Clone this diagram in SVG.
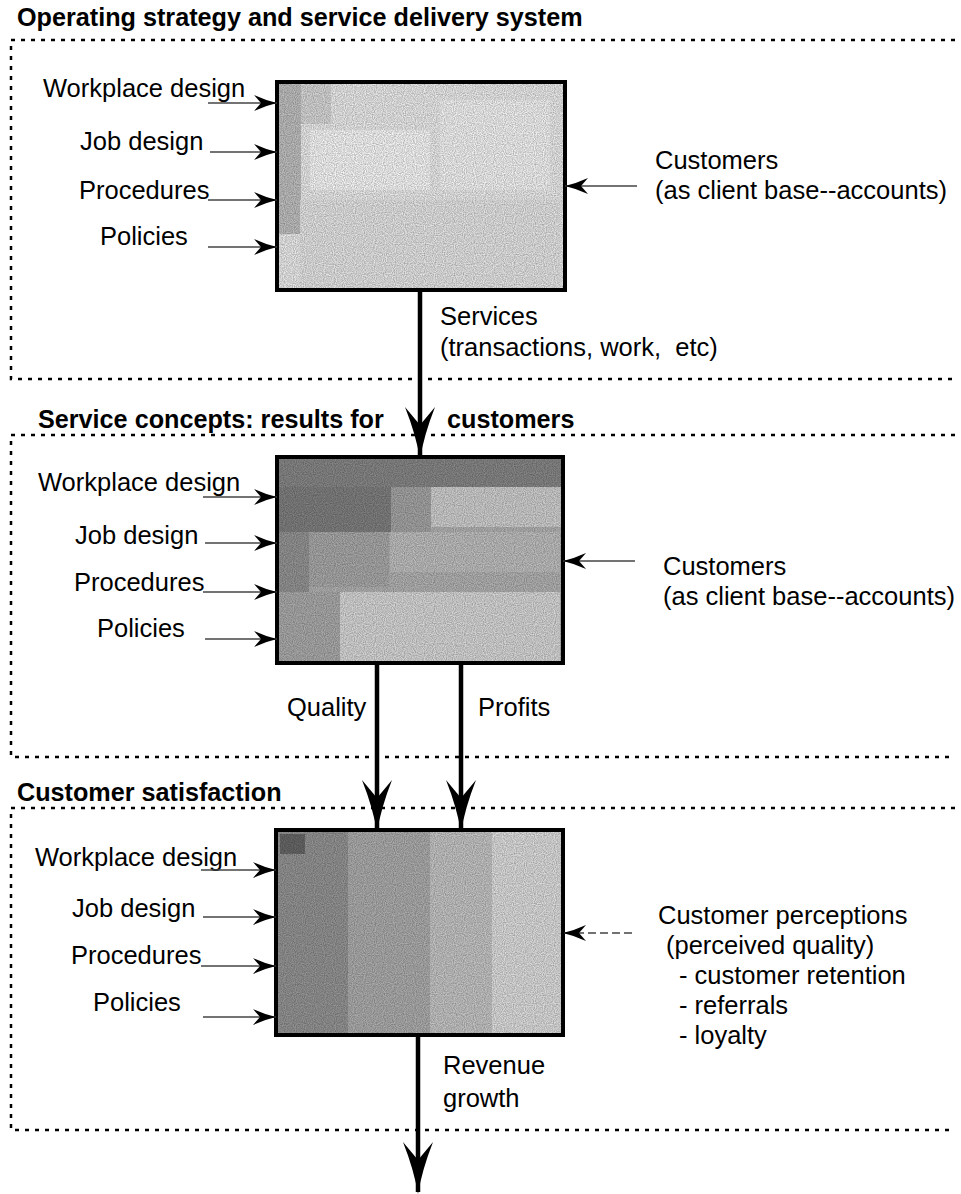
<svg xmlns="http://www.w3.org/2000/svg" width="961" height="1194" viewBox="0 0 961 1194">
<style>
text{font-family:"Liberation Sans",Arial,sans-serif;font-size:25.5px;fill:#000}
.t{font-weight:bold;font-size:25.2px}
.dash{stroke:#000;stroke-width:2.5;stroke-dasharray:4 6;fill:none}
.in{stroke:#444;stroke-width:1.4;fill:none;marker-end:url(#sm)}
.big{stroke:#000;stroke-width:4.5;fill:none;marker-end:url(#bm)}
.frame{fill:none;stroke:#000;stroke-width:4}
</style>
<defs>
<marker id="sm" viewBox="0 0 23 16" refX="23" refY="8" markerWidth="23" markerHeight="16" markerUnits="userSpaceOnUse" orient="auto">
<path d="M23,8 Q12,5.5 0,0 L7,8 L0,16 Q12,10.5 23,8 Z" fill="#000"/>
</marker>
<marker id="bm" viewBox="0 0 52 30" refX="50" refY="15" markerWidth="52" markerHeight="30" markerUnits="userSpaceOnUse" orient="auto">
<path d="M52,15 Q28,11 0,0 L18,15 L0,30 Q28,19 52,15 Z" fill="#000"/>
</marker>
<filter id="grain" x="0" y="0" width="100%" height="100%">
<feTurbulence type="fractalNoise" baseFrequency="0.9" numOctaves="1" seed="4"/>
<feColorMatrix type="matrix" values="0 0 0 0 0  0 0 0 0 0  0 0 0 0 0  0 0 0 1.2 -0.35"/>
<feComposite in2="SourceGraphic" operator="in"/>
</filter>
</defs>
<rect width="961" height="1194" fill="#fff"/>

<g id="section1">
<text class="t" x="17" y="26">Operating strategy and service delivery system</text>
<path class="dash" d="M955,40 H11 V379 H955"/>
</g>
<g id="section2">
<text class="t" x="38" y="428">Service concepts: results for</text>
<text class="t" x="447" y="428">customers</text>
<path class="dash" d="M955,435 H11 V757 H955"/>
</g>
<g id="section3">
<text class="t" x="17" y="801">Customer satisfaction</text>
<path class="dash" d="M955,808 H11 V1130 H955"/>
</g>

<g id="box1">
<rect x="277" y="82" width="288" height="208" fill="#e8e8e8"/>
<rect x="279" y="84" width="22" height="150" fill="#bcbcbc"/>
<rect x="301" y="84" width="30" height="40" fill="#d4d4d4"/>
<rect x="310" y="130" width="120" height="60" fill="#f4f4f4"/>
<rect x="440" y="100" width="110" height="90" fill="#f0f0f0"/>
<rect x="300" y="200" width="260" height="88" fill="#e2e2e2"/>
<rect x="277" y="82" width="288" height="208" fill="#fff" filter="url(#grain)" opacity="0.45"/>
<rect class="frame" x="277" y="82" width="288" height="208"/>
</g>
<g id="box2">
<rect x="277" y="457" width="286" height="206" fill="#b0b0b0"/>
<rect x="279" y="459" width="282" height="28" fill="#858585"/>
<rect x="279" y="487" width="112" height="45" fill="#7e7e7e"/>
<rect x="279" y="532" width="30" height="60" fill="#929292"/>
<rect x="391" y="487" width="40" height="45" fill="#a2a2a2"/>
<rect x="431" y="487" width="130" height="40" fill="#cccccc"/>
<rect x="309" y="532" width="80" height="55" fill="#a6a6a6"/>
<rect x="390" y="532" width="170" height="40" fill="#bcbcbc"/>
<rect x="340" y="592" width="220" height="69" fill="#d4d4d4"/>
<rect x="279" y="592" width="61" height="69" fill="#a8a8a8"/>
<rect x="277" y="457" width="286" height="206" fill="#fff" filter="url(#grain)" opacity="0.45"/>
<rect class="frame" x="277" y="457" width="286" height="206"/>
</g>
<g id="box3">
<rect x="276" y="830" width="287" height="205" fill="#b8b8b8"/>
<rect x="278" y="832" width="70" height="201" fill="#929292"/>
<rect x="280" y="834" width="25" height="20" fill="#666666"/>
<rect x="348" y="832" width="82" height="201" fill="#aaaaaa"/>
<rect x="430" y="832" width="62" height="201" fill="#c2c2c2"/>
<rect x="492" y="832" width="69" height="201" fill="#dadada"/>
<rect x="276" y="830" width="287" height="205" fill="#fff" filter="url(#grain)" opacity="0.45"/>
<rect class="frame" x="276" y="830" width="287" height="205"/>
</g>

<g id="labels1">
<text x="43" y="97">Workplace design</text>
<text x="80" y="150">Job design</text>
<text x="79" y="199">Procedures</text>
<text x="100" y="245">Policies</text>
<text x="655" y="169">Customers</text>
<text x="655" y="199">(as client base--accounts)</text>
<text x="440" y="325">Services</text>
<text x="440" y="356" xml:space="preserve">(transactions, work,  etc)</text>
</g>
<g id="labels2">
<text x="38" y="491">Workplace design</text>
<text x="75" y="544">Job design</text>
<text x="74" y="591">Procedures</text>
<text x="97" y="637">Policies</text>
<text x="663" y="575">Customers</text>
<text x="663" y="605">(as client base--accounts)</text>
<text x="287" y="716">Quality</text>
<text x="478" y="716">Profits</text>
</g>
<g id="labels3">
<text x="35" y="866">Workplace design</text>
<text x="72" y="917">Job design</text>
<text x="71" y="964">Procedures</text>
<text x="93" y="1011">Policies</text>
<text x="658" y="924">Customer perceptions</text>
<text x="666" y="954">(perceived quality)</text>
<text x="679" y="984">- customer retention</text>
<text x="679" y="1014">- referrals</text>
<text x="679" y="1044">- loyalty</text>
<text x="443" y="1074">Revenue</text>
<text x="443" y="1107">growth</text>
</g>

<g id="connectors">
<path class="in" d="M208,103 H277"/>
<path class="in" d="M210,152 H277"/>
<path class="in" d="M208,200 H277"/>
<path class="in" d="M208,247 H277"/>
<path class="in" d="M637,186 H565"/>
<path class="in" d="M203,497 H277"/>
<path class="in" d="M205,543 H277"/>
<path class="in" d="M203,592 H277"/>
<path class="in" d="M205,639 H277"/>
<path class="in" d="M635,561 H563"/>
<path class="in" d="M201,870 H276"/>
<path class="in" d="M203,917 H276"/>
<path class="in" d="M201,966 H276"/>
<path class="in" d="M203,1017 H276"/>
<path class="in" d="M632,933 H563" stroke-dasharray="8 4"/>
<path class="big" d="M420,290 V457"/>
<path class="big" d="M377,663 V830"/>
<path class="big" d="M461,663 V830"/>
<path class="big" d="M418,1035 V1192"/>
</g>
</svg>
